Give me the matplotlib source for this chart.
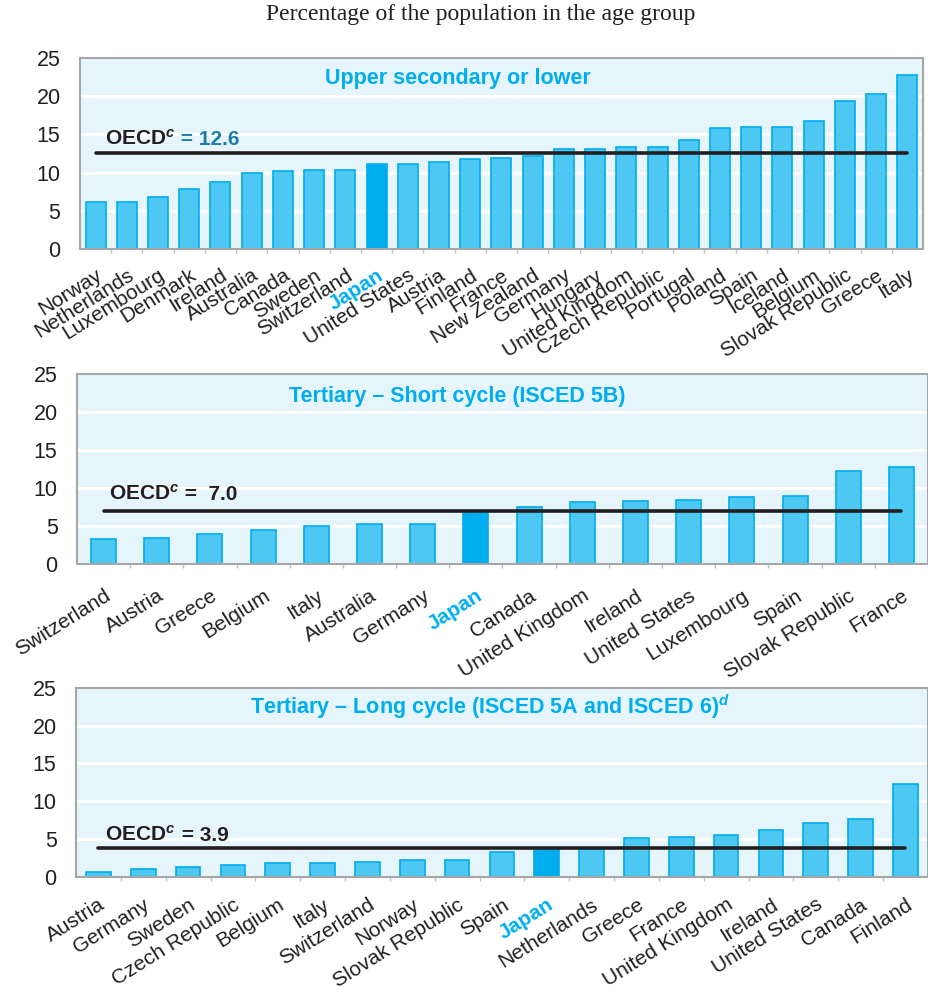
import matplotlib
matplotlib.use("Agg")
import matplotlib.pyplot as plt

plt.rcParams['font.family'] = ['Liberation Sans', 'DejaVu Sans']
plt.rcParams['mathtext.fontset'] = 'custom'
plt.rcParams['mathtext.it'] = 'Liberation Sans:italic:bold'
plt.rcParams['mathtext.rm'] = 'Liberation Sans:bold'
plt.rcParams['mathtext.bf'] = 'Liberation Sans:bold'

# data
upper_countries = ['Norway', 'Netherlands', 'Luxembourg', 'Denmark', 'Ireland', 'Australia',
                   'Canada', 'Sweden', 'Switzerland', 'Japan', 'United States', 'Austria',
                   'Finland', 'France', 'New Zealand', 'Germany', 'Hungary', 'United Kingdom',
                   'Czech Republic', 'Portugal', 'Poland', 'Spain', 'Iceland', 'Belgium',
                   'Slovak Republic', 'Greece', 'Italy']
upper_values = [6.2, 6.2, 6.8, 7.9, 8.8, 9.9, 10.2, 10.3, 10.35, 11.1, 11.1, 11.4,
                11.8, 11.9, 12.2, 13.1, 13.1, 13.35, 13.4, 14.3, 15.8, 16.0, 16.0, 16.8,
                19.4, 20.3, 22.8]
upper_oecd = 12.6

short_countries = ['Switzerland', 'Austria', 'Greece', 'Belgium', 'Italy', 'Australia',
                   'Germany', 'Japan', 'Canada', 'United Kingdom', 'Ireland', 'United States',
                   'Luxembourg', 'Spain', 'Slovak Republic', 'France']
short_values = [3.3, 3.4, 3.9, 4.5, 5.0, 5.25, 5.3, 6.7, 7.45, 8.1, 8.3, 8.4, 8.8, 9.0, 12.2, 12.7]
short_oecd = 7.0

long_countries = ['Austria', 'Germany', 'Sweden', 'Czech Republic', 'Belgium', 'Italy',
                  'Switzerland', 'Norway', 'Slovak Republic', 'Spain', 'Japan', 'Netherlands',
                  'Greece', 'France', 'United Kingdom', 'Ireland', 'United States', 'Canada',
                  'Finland']
long_values = [0.7, 1.1, 1.3, 1.55, 1.85, 1.9, 2.0, 2.2, 2.3, 3.25, 3.6, 3.7,
               5.2, 5.3, 5.6, 6.2, 7.2, 7.7, 12.3]
long_oecd = 3.9

BLUE = '#00AEEF'
BAR = '#4DC8F3'
BG = '#E6F5FC'
DARK = '#231F20'

fig = plt.figure(figsize=(9.29, 9.92), dpi=100)
fig.text(0.517, 0.985, 'Percentage of the population in the age group', ha='center', va='center',
         family='Liberation Serif', fontsize=17, color=DARK)


def draw_panel(rect, countries, values, oecd, title, title_x, title_y, width, pad_lbl, oecd_off,
               eq=' = ', oecd_color=DARK):
    ax = fig.add_axes(rect)
    n = len(countries)
    xs = list(range(n))
    colors = [BLUE if c == 'Japan' else BAR for c in countries]
    ax.set_facecolor(BG)
    for y in [5, 10, 15, 20]:
        ax.axhline(y, color='white', lw=2.2, zorder=1)
    ax.bar(xs, values, width=width, color=colors, edgecolor=BLUE, linewidth=1.2, zorder=2)
    ax.plot([0, n - 1], [oecd, oecd], color=DARK, lw=2.6, solid_capstyle='round', zorder=3)

    ax.set_ylim(0, 25)
    ax.set_xlim(-0.5, n - 0.5)
    ax.set_yticks([0, 5, 10, 15, 20, 25])
    ax.tick_params(axis='y', length=0, pad=14, labelsize=15.5, labelcolor=DARK)
    ax.set_xticks(xs)
    ax.set_xticklabels(countries, rotation=32, ha='right', va='top', rotation_mode='anchor',
                       fontsize=15, color=DARK)
    ax.tick_params(axis='x', length=0, pad=pad_lbl)
    ax.set_xticks([i + 0.5 for i in range(n - 1)], minor=True)
    ax.tick_params(axis='x', which='minor', length=3, color='#BFBFBF', width=1)
    for lbl in ax.get_xticklabels():
        if lbl.get_text() == 'Japan':
            lbl.set_color(BLUE)
            lbl.set_fontweight('bold')
    for s in ax.spines.values():
        s.set_color('#A6A6A6')
        s.set_linewidth(1.5)

    ax.text(title_x, title_y, title, transform=ax.transAxes, ha='center', va='baseline',
            fontsize=15.5, fontweight='bold', color=BLUE)

    t1 = ax.annotate('OECD$^{c}$', xy=(0, oecd), xytext=oecd_off, textcoords='offset pixels',
                     ha='left', va='baseline', fontsize=15, fontweight='bold', color=DARK)
    ax.annotate(eq + '%.1f' % oecd, xy=(1, 0), xycoords=t1, ha='left', va='bottom',
                fontsize=15, fontweight='bold', color=oecd_color)
    return ax


draw_panel([0.0861, 0.749, 0.9074, 0.1925], upper_countries, upper_values, upper_oecd,
           'Upper secondary or lower', 0.448, 0.865, 0.64, 12, (9, 8), oecd_color='#1A7DA8')
draw_panel([0.0829, 0.4315, 0.916, 0.1915], short_countries, short_values, short_oecd,
           'Tertiary \u2013 Short cycle (ISCED 5B)', 0.447, 0.854, 0.47, 16, (5, 11), eq=' =  ')
draw_panel([0.0818, 0.1159, 0.917, 0.1908], long_countries, long_values, long_oecd,
           'Tertiary \u2013 Long cycle (ISCED 5A and ISCED 6)$^{d}$', 0.486, 0.86, 0.55, 13, (7, 7))

fig.savefig('out.png', dpi=100)
